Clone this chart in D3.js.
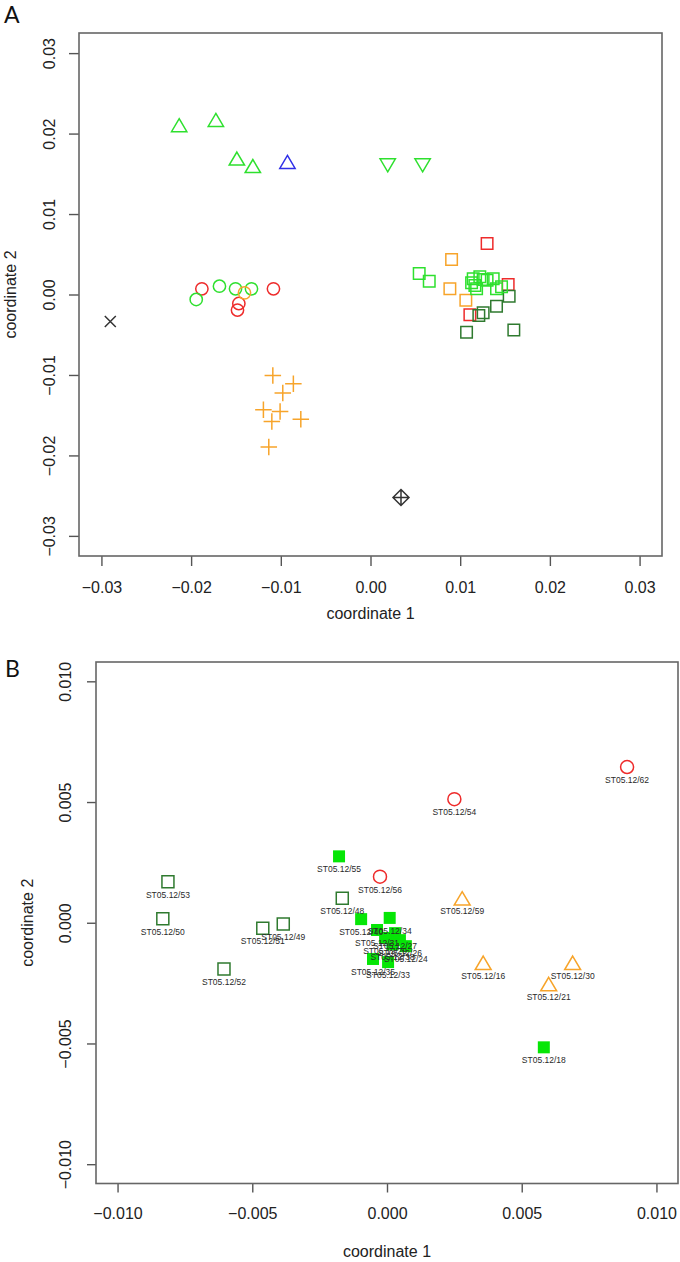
<!DOCTYPE html>
<html><head><meta charset="utf-8">
<script src="https://cdn.jsdelivr.net/npm/d3@7"></script>
<style>body{margin:0;background:#fff}svg{display:block}</style>
</head><body>
<svg id="c" width="680" height="1262"></svg>
<script>
// ---------------- Panel A data (coordinate 1, coordinate 2) ----------------
const aTicks = [-0.03, -0.02, -0.01, 0.00, 0.01, 0.02, 0.03];
const aGreenTriUp = [[-0.02133,0.02104],[-0.01724,0.0217],[-0.0149,0.01689],[-0.01312,0.01597]];
const aBlueTriUp = [[-0.00926,0.01647]];
const aGreenTriDown = [[0.00192,0.01606],[0.00581,0.01606]];
const aRedCircles = [[-0.0188,0.00071],[-0.01082,0.00071],[-0.01468,-0.00112],[-0.01483,-0.00193]];
const aGreenCircles = [[-0.01943,-0.00062],[-0.01684,0.00103],[-0.01505,0.00071],[-0.01327,0.00071]];
const aOrangeCircles = [[-0.01405,0.00021]];
const aBlackX = [[-0.02901,-0.00336]];
const aOrangePlus = [[-0.01089,-0.01008],[-0.0086,-0.01108],[-0.00978,-0.01224],[-0.01194,-0.01432],
  [-0.01008,-0.01453],[-0.011,-0.01577],[-0.00777,-0.0155],[-0.01134,-0.01896]];
const aBlackDiamond = [[0.0034,-0.02523]];
const aOrangeSquares = [[0.00904,0.00436],[0.00885,0.00071],[0.01063,-0.00071]];
const aRedSquares = [[0.01108,-0.00253],[0.013,0.00635],[0.01535,0.00124]];
const aGreenSquares = [[0.00543,0.00261],[0.00655,0.00166],[0.01145,0.00195],[0.01127,0.00146],[0.01164,0.00112],
  [0.01219,0.0022],[0.01256,0.00187],[0.013,0.00178],[0.01368,0.00195],[0.01405,0.00071],[0.01461,0.00096],[0.01183,0.00071]];
const aDarkGreenSquares = [[0.01208,-0.00261],[0.01256,-0.00228],[0.01405,-0.00146],[0.01546,-0.00021],[0.01071,-0.00469],[0.01598,-0.0044]];

// ---------------- Panel B data ----------------
const bTicks = [-0.010, -0.005, 0.000, 0.005, 0.010];
const bDarkGreenNames = ["ST05.12/53","ST05.12/50","ST05.12/51","ST05.12/49","ST05.12/52","ST05.12/48"];
const bDarkGreenXY = [[-0.00813,0.0017],[-0.00832,0.00017],[-0.00461,-0.00023],[-0.00385,-0.00005],[-0.00605,-0.00192],[-0.00166,0.00101]];
const bGreenNames = ["ST05.12/55","ST05.12/18","ST05.12/40","ST05.12/34","ST05.12/31","ST05.12/27","ST05.12/29",
  "ST05.12/26","ST05.12/24","ST05.12/35","ST05.12/33","ST05.12/38"];
const bGreenXY = [[-0.00178,0.00275],[0.00582,-0.00516],[-0.00096,0.00015],[0.0001,0.0002],[-0.00037,-0.0003],
  [0.0003,-0.00043],[-0.00007,-0.00063],[0.00048,-0.00072],[0.0007,-0.00097],[-0.00052,-0.0015],[0.00004,-0.00163],[0.0002,-0.0009]];
const bRedNames = ["ST05.12/62","ST05.12/54","ST05.12/56"];
const bRedXY = [[0.00891,0.00645],[0.0025,0.00512],[-0.00026,0.00191]];
const bOrangeNames = ["ST05.12/59","ST05.12/16","ST05.12/30","ST05.12/21"];
const bOrangeXY = [[0.00279,0.00101],[0.00357,-0.00166],[0.00689,-0.00166],[0.006,-0.00254]];

// ---------------- drawing ----------------
const C = {green:"#2ee02e", red:"#ee2b2b", orange:"#f7a42a", dark:"#2f7a2f", blue:"#2f2fe8", black:"#333", fill:"#06e606"};
const FONT = "'Liberation Sans', Arial, sans-serif";
const svg = d3.select("#c");

function shape(type, s) {
  const p = d3.path(), h = s / 2;
  if (type === "square") { p.rect(-h, -h, s, s); }
  else if (type === "circle") { p.moveTo(h, 0); p.arc(0, 0, h, 0, 2 * Math.PI); p.closePath(); }
  else if (type === "triUp") { const w = s * 1.18; p.moveTo(0, -h); p.lineTo(w / 2, h); p.lineTo(-w / 2, h); p.closePath(); }
  else if (type === "triDown") { const w = s * 1.18; p.moveTo(0, h); p.lineTo(w / 2, -h); p.lineTo(-w / 2, -h); p.closePath(); }
  else if (type === "plus") { p.moveTo(-h, 0); p.lineTo(h, 0); p.moveTo(0, -h); p.lineTo(0, h); }
  else if (type === "x") { p.moveTo(-h, -h); p.lineTo(h, h); p.moveTo(-h, h); p.lineTo(h, -h); }
  else if (type === "diamondPlus") { p.moveTo(0, -h); p.lineTo(h, 0); p.lineTo(0, h); p.lineTo(-h, 0); p.closePath();
    p.moveTo(-h, 0); p.lineTo(h, 0); p.moveTo(0, -h); p.lineTo(0, h); }
  return p.toString();
}

function panel(cfg) {
  const x = d3.scaleLinear().domain(cfg.domain).range([cfg.left, cfg.right]);
  const y = d3.scaleLinear().domain(cfg.domain).range([cfg.bottom, cfg.top]);
  const g = svg.append("g");
  const xa = g.append("g").attr("transform", `translate(0,${cfg.bottom})`)
    .call(d3.axisBottom(x).tickValues(cfg.ticks).tickSize(cfg.tick).tickPadding(0).tickFormat(d3.format(cfg.fmt)));
  xa.select(".domain").remove();
  xa.selectAll(".tick line").attr("stroke", "#555").attr("stroke-width", 1.4);
  xa.selectAll(".tick text").attr("y", cfg.xLabY - cfg.bottom).attr("dy", "0.35em")
    .attr("font-size", cfg.fs).attr("font-family", FONT).attr("fill", "#222");
  const ya = g.append("g").attr("transform", `translate(${cfg.left},0)`)
    .call(d3.axisLeft(y).tickValues(cfg.ticks).tickSize(cfg.tick).tickFormat(d3.format(cfg.fmt)));
  ya.select(".domain").remove();
  ya.selectAll(".tick line").attr("stroke", "#555").attr("stroke-width", 1.4);
  ya.selectAll(".tick text").attr("x", null).attr("text-anchor", "middle")
    .attr("transform", `translate(${cfg.yLabX - cfg.left},0) rotate(-90)`).attr("dy", "0.35em")
    .attr("font-size", cfg.fs).attr("font-family", FONT).attr("fill", "#222");
  g.append("rect").attr("x", cfg.left).attr("y", cfg.top).attr("width", cfg.right - cfg.left)
    .attr("height", cfg.bottom - cfg.top).attr("fill", "none").attr("stroke", "#666").attr("stroke-width", 1.6);
  g.append("text").attr("x", (cfg.left + cfg.right) / 2).attr("y", cfg.xTitleY).attr("text-anchor", "middle")
    .attr("font-size", cfg.fs).attr("font-family", FONT).attr("fill", "#222").text("coordinate 1");
  g.append("text").attr("transform", `translate(${cfg.yTitleX},${(cfg.top + cfg.bottom) / 2}) rotate(-90)`)
    .attr("text-anchor", "middle").attr("dy", "0.35em")
    .attr("font-size", cfg.fs).attr("font-family", FONT).attr("fill", "#222").text("coordinate 2");
  g.append("text").attr("x", cfg.letterX).attr("y", cfg.letterY).attr("font-size", 23)
    .attr("font-family", "Lato, 'Open Sans', sans-serif").attr("fill", "#111").text(cfg.letter);
  return {g, x, y};
}

function pts(P, data, type, size, color, filled) {
  P.g.append("g").selectAll("path").data(data).join("path")
    .attr("transform", d => `translate(${P.x(d[0])},${P.y(d[1])})`)
    .attr("d", shape(type, size))
    .attr("fill", filled ? color : "none")
    .attr("stroke", filled ? "none" : color).attr("stroke-width", 1.5);
}

// Panel A
const PA = panel({domain: [-0.0325, 0.0325], left: 79, right: 662, top: 33, bottom: 556, ticks: aTicks, fmt: ".2f",
  tick: 10, fs: 16, xLabY: 587, yLabX: 49, xTitleY: 619, yTitleX: 10, letter: "A", letterX: 4, letterY: 23});
pts(PA, aOrangeSquares, "square", 11.5, C.orange);
pts(PA, aRedSquares, "square", 11.5, C.red);
pts(PA, aDarkGreenSquares, "square", 11.5, C.dark);
pts(PA, aGreenSquares, "square", 11.5, C.green);
pts(PA, aGreenTriUp, "triUp", 13, C.green);
pts(PA, aBlueTriUp, "triUp", 13, C.blue);
pts(PA, aGreenTriDown, "triDown", 13, C.green);
pts(PA, aRedCircles, "circle", 12.3, C.red);
pts(PA, aGreenCircles, "circle", 12.3, C.green);
pts(PA, aOrangeCircles, "circle", 12.3, C.orange);
pts(PA, aBlackX, "x", 11, C.black);
pts(PA, aOrangePlus, "plus", 16.5, C.orange);
pts(PA, aBlackDiamond, "diamondPlus", 16, C.black);

// Panel B
const PB = panel({domain: [-0.0108, 0.0108], left: 96, right: 678, top: 662, bottom: 1183.5, ticks: bTicks, fmt: ".3f",
  tick: 9, fs: 16, xLabY: 1213, yLabX: 65, xTitleY: 1257, yTitleX: 27, letter: "B", letterX: 5, letterY: 677});
pts(PB, bDarkGreenXY, "square", 12, C.dark);
pts(PB, bGreenXY, "square", 12, C.fill, true);
pts(PB, bRedXY, "circle", 13, C.red);
pts(PB, bOrangeXY, "triUp", 13.5, C.orange);

function labels(P, names, xy) {
  P.g.append("g").selectAll("text").data(names).join("text")
    .attr("x", (d, i) => P.x(xy[i][0])).attr("y", (d, i) => P.y(xy[i][1]) + 13)
    .attr("dy", "0.35em").attr("text-anchor", "middle")
    .attr("font-size", 8.5).attr("font-family", FONT).attr("fill", "#2a2a2a").text(d => d);
}
labels(PB, bDarkGreenNames, bDarkGreenXY);
labels(PB, bGreenNames, bGreenXY);
labels(PB, bRedNames, bRedXY);
labels(PB, bOrangeNames, bOrangeXY);
</script>
</body></html>
